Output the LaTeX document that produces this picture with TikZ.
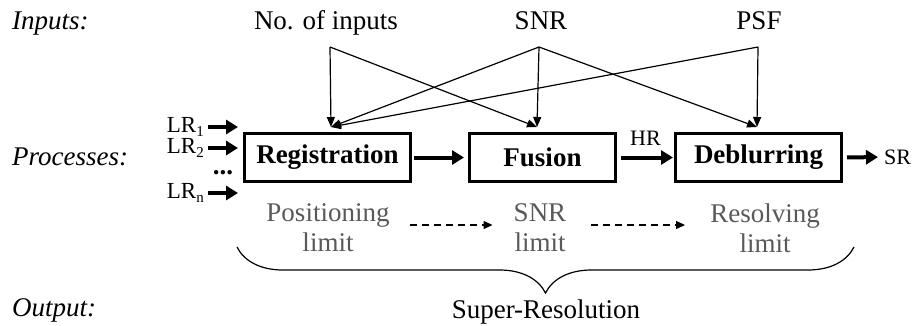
\documentclass[tikz,border=0pt]{standalone}
\usepackage{fontspec}
\setmainfont{Liberation Serif}
\usetikzlibrary{arrows.meta,positioning,decorations.pathreplacing}

\newcommand{\mainsize}{\fontsize{27}{30}\selectfont}
\newcommand{\lrsize}{\fontsize{23}{26}\selectfont}
\newcommand{\lrsub}[1]{\raisebox{-0.3ex}{\fontsize{15}{15}\selectfont #1}}

\tikzset{
  procbox/.style={draw, line width=3pt, minimum width=166pt, minimum height=48pt, inner sep=0pt, font=\mainsize\bfseries},
  thickarrow/.style={line width=4pt, -{Triangle[length=12pt,width=14pt]}},
  fanarrow/.style={line width=1.2pt, -{Triangle[length=10pt,width=8pt]}},
  limitarrow/.style={dashed, dash pattern=on 7pt off 5pt, line width=1.2pt, -{Triangle[length=9pt,width=8pt]}},
  limittext/.style={text=black!65, align=center, inner sep=0pt, font=\mainsize},
  rowlabel/.style={anchor=base west, inner sep=0pt, font=\mainsize\itshape},
  lrtext/.style={anchor=east, inner sep=0pt, font=\lrsize},
  smalltext/.style={inner sep=0pt, font=\fontsize{22}{26}\selectfont},
}

\begin{document}
\begin{tikzpicture}[x=1pt, y=-1pt, font=\mainsize]
    \useasboundingbox (0,0) rectangle (914,325);

    \node[rowlabel] (lbl-in) at (12,29) {Inputs:};
    \node[rowlabel] (lbl-proc) at (12,165) {Processes:};
    \node[rowlabel] (lbl-out) at (12,316) {Output:};

    \node[anchor=base, inner sep=0pt] (nin) at (326,29) {No. of inputs};
    \node[anchor=base, inner sep=0pt] (snr) at (541,29) {SNR};
    \node[anchor=base, inner sep=0pt] (psf) at (759,29) {PSF};

    \coordinate (nin-j) at (330,47);
    \coordinate (snr-j) at (539,47);
    \coordinate (psf-j) at (758,47);

    \node[procbox] (reg) at (327.5,157.5) {Registration};
    \node[procbox, minimum width=146pt, right=56pt of reg] (fus) {Fusion};
    \node[procbox, right=57pt of fus] (deb) {Deblurring};

    \coordinate (reg-in) at (331,127);
    \coordinate (fus-in) at (537,127);
    \coordinate (deb-in) at (757,127);

    \draw[fanarrow] (nin-j) -- (reg-in);
    \draw[fanarrow] (nin-j) -- (fus-in);
    \draw[fanarrow] (snr-j) -- (reg-in);
    \draw[fanarrow] (snr-j) -- (fus-in);
    \draw[fanarrow] (snr-j) -- (deb-in);
    \draw[fanarrow] (psf-j) -- (reg-in);
    \draw[fanarrow] (psf-j) -- (deb-in);

    \node[lrtext] (lr1) at (204,127) {LR\lrsub{1}};
    \node[lrtext] (lr2) at (204,148) {LR\lrsub{2}};
    \node[anchor=base, inner sep=0pt] (lrdots) at (223,174) {\textbf{...}};
    \node[lrtext] (lrn) at (204,193) {LR\lrsub{n}};

    \draw[thickarrow, shorten <=4pt, shorten >=5pt] (lr1.east) -- (lr1.east -| reg.west);
    \draw[thickarrow, shorten <=4pt, shorten >=5pt] (lr2.east) -- (lr2.east -| reg.west);
    \draw[thickarrow, shorten <=4pt, shorten >=5pt] (lrn.east) -- (lrn.east -| reg.west);

    \draw[thickarrow, shorten <=2pt, shorten >=4pt] (reg) -- (fus);
    \draw[thickarrow, shorten <=4pt, shorten >=1pt] (fus) -- node[smalltext, anchor=base, yshift=12pt] (hr) {HR} (deb);
    \node[smalltext, anchor=west] (sr) at (884,157) {SR};
    \draw[thickarrow, shorten <=4pt, shorten >=6pt] (deb.east) -- (sr.west);

    \node[limittext] (poslim) at (328,228) {Positioning\\limit};
    \node[limittext] (snrlim) at (540,228) {SNR\\limit};
    \node[limittext] (reslim) at (765,228) {Resolving\\limit};

    \draw[limitarrow, shorten <=20pt, shorten >=21pt] ([yshift=3pt]poslim.east) -- ([yshift=3pt]snrlim.west);
    \draw[limitarrow, shorten <=25pt, shorten >=25pt] ([yshift=3pt]snrlim.east) -- ([yshift=3pt]reslim.west);

    \coordinate (brace-l) at (237,247);
    \coordinate (brace-r) at (854,247);
    \draw[line width=1.2pt, decorate, decoration={brace, mirror, amplitude=46pt}] (brace-l) -- (brace-r);

    \node[anchor=base, inner sep=0pt] (sres) at (546,318) {Super-Resolution};
\end{tikzpicture}
\end{document}
